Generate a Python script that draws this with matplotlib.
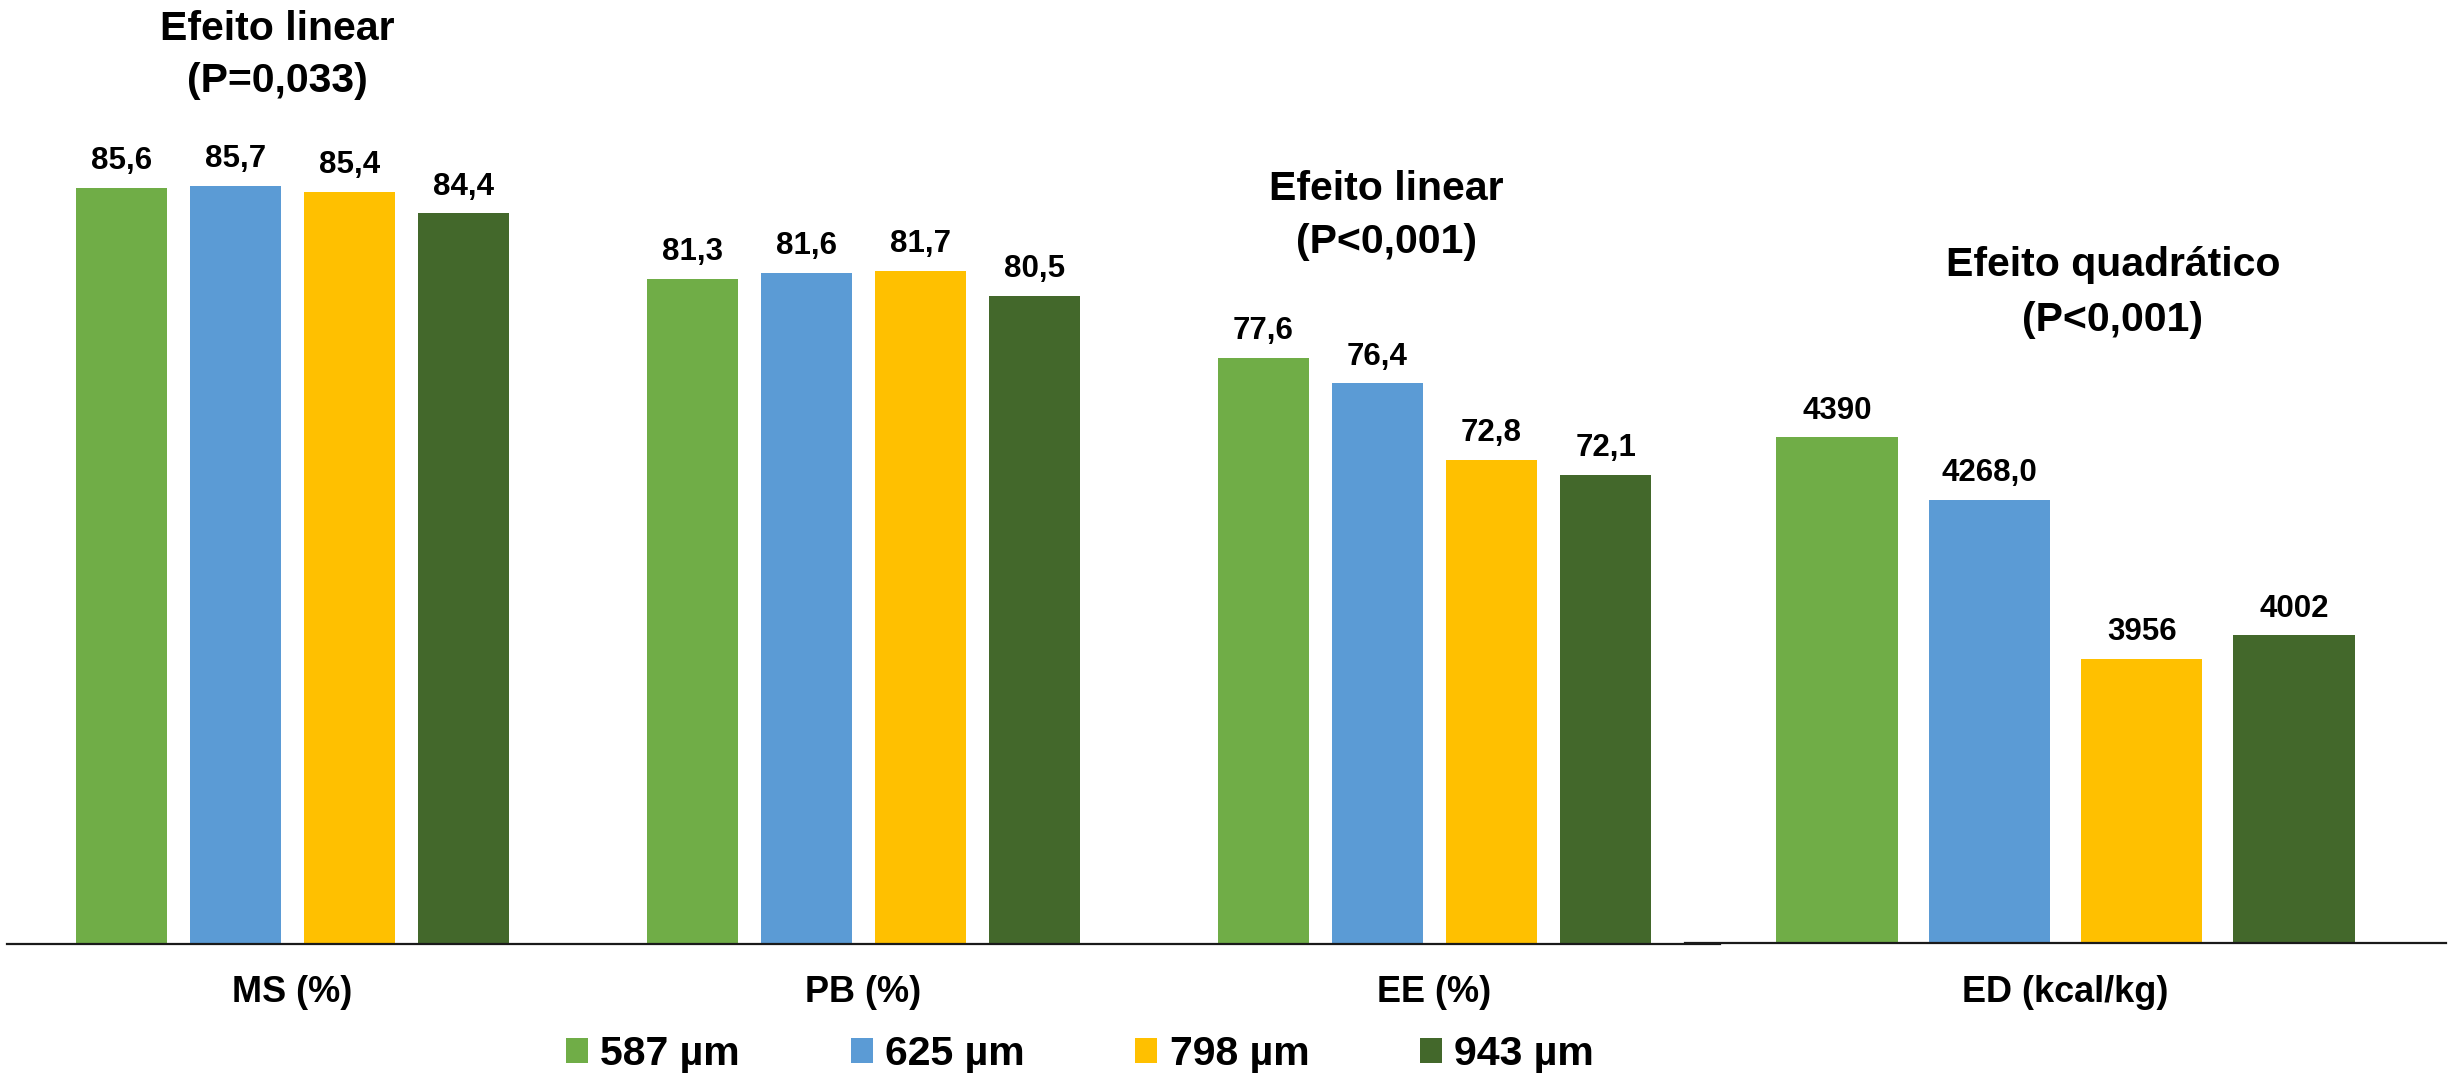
import numpy as np
import matplotlib
matplotlib.use("Agg")
import matplotlib.pyplot as plt
from matplotlib import transforms

plt.rcParams['font.family'] = ['Liberation Sans', 'DejaVu Sans']
plt.rcParams['font.weight'] = 'bold'

# digestibility coefficients by particle size
sizes = ['587 µm', '625 µm', '798 µm', '943 µm']
colors = ['#70AD47', '#5B9BD5', '#FFC000', '#43682B']
categories = ['MS (%)', 'PB (%)', 'EE (%)']
ms = [85.6, 85.7, 85.4, 84.4]
pb = [81.3, 81.6, 81.7, 80.5]
ee = [77.6, 76.4, 72.8, 72.1]
pct_labels = [['85,6', '85,7', '85,4', '84,4'],
              ['81,3', '81,6', '81,7', '80,5'],
              ['77,6', '76,4', '72,8', '72,1']]

# digestible energy (second panel)
ed_name = 'ED (kcal/kg)'
ed = [4390, 4268.0, 3956, 4002]
ed_labels = ['4390', '4268,0', '3956', '4002']

W, H = 2463, 1073
fig = plt.figure(figsize=(W / 100, H / 100), dpi=100)


def fx(x):
    return x / W


def fy(y):
    return 1 - y / H


# left panel: percentages, axis starts at 50
ax = fig.add_axes([fx(7), fy(944), fx(1713), 944 / H])
ax.set_ylim(50, 50 + 944 / 21.24)
ax.set_xlim(-0.5, 2.5)
x = np.arange(len(categories))
for i in range(len(sizes)):
    vals = [ms[i], pb[i], ee[i]]
    ax.bar(x + (i - 1.5) * 0.2, vals, width=0.16, color=colors[i], label=sizes[i])
    for j, v in enumerate(vals):
        ax.annotate(pct_labels[j][i], (x[j] + (i - 1.5) * 0.2, v), xytext=(0, 13.5),
                    textcoords='offset points', ha='center', va='baseline', fontsize=22.5)

# right panel: energy on its own scale
ax2 = fig.add_axes([fx(1685), fy(942.5), fx(761), 942.5 / H])
ax2.set_ylim(3400, 3400 + 942.5 / 0.5103)
ax2.set_xlim(-0.5, 0.5)
for i in range(len(sizes)):
    ax2.bar((i - 1.5) * 0.2, ed[i], width=0.16, color=colors[i])
    ax2.annotate(ed_labels[i], ((i - 1.5) * 0.2, ed[i]), xytext=(0, 13.5),
                 textcoords='offset points', ha='center', va='baseline', fontsize=22.5)

for a in (ax, ax2):
    for s in ('top', 'right', 'left'):
        a.spines[s].set_visible(False)
    a.spines['bottom'].set_color('#1a1a1a')
    a.spines['bottom'].set_linewidth(1.6)
    a.set_xticks([])
    a.set_yticks([])
    a.patch.set_alpha(0)

# category names under the axis
t1 = transforms.blended_transform_factory(ax.transData, fig.transFigure)
for j, c in enumerate(categories):
    ax.text(x[j], fy(1002), c, transform=t1, ha='center', va='baseline', fontsize=26)
t2 = transforms.blended_transform_factory(ax2.transData, fig.transFigure)
ax2.text(0, fy(1002), ed_name, transform=t2, ha='center', va='baseline', fontsize=26)

# regression effect notes
notes = [(277, 40.5, 92, 'Efeito linear', '(P=0,033)'),
         (1386, 200, 253, 'Efeito linear', '(P<0,001)'),
         (2113, 276, 331, 'Efeito quadrático', '(P<0,001)')]
for xc, y1, y2, l1, l2 in notes:
    fig.text(fx(xc), fy(y1), l1, ha='center', va='baseline', fontsize=29.5)
    fig.text(fx(xc), fy(y2), l2, ha='center', va='baseline', fontsize=29.5)

fig.legend(loc='center', bbox_to_anchor=(fx(1080), fy(1054)), ncol=4, frameon=False,
           fontsize=29.5, handlelength=0.54, handleheight=0.54, handletextpad=0.3,
           columnspacing=2.7, borderaxespad=0)

fig.savefig('out.png', dpi=100, facecolor='white')
